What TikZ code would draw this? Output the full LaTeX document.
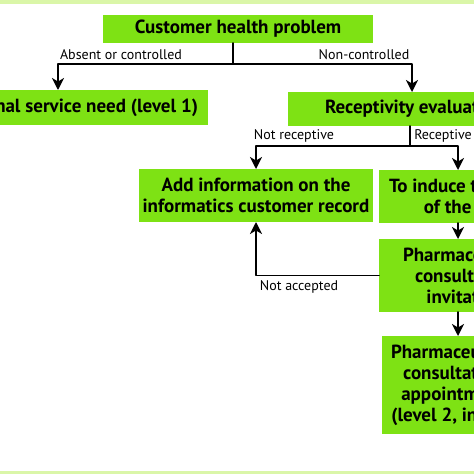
\documentclass[tikz,border=0pt]{standalone}
\usepackage{fontspec}
\setmainfont{PT Sans}
\usepackage{tikz}
\usetikzlibrary{arrows.meta}
\definecolor{boxgreen}{RGB}{126,226,20}
\definecolor{bandgreen}{RGB}{218,246,168}

\begin{document}
\begin{tikzpicture}[x=1pt,y=-1pt,line cap=round,line join=round,
  box/.style={fill=boxgreen,font=\fontsize{19}{21}\selectfont\bfseries,align=center,inner ysep=0pt,outer sep=0pt},
  lbl/.style={font=\fontsize{14}{16}\selectfont,inner sep=0pt},
  ln/.style={line width=1.6pt},
  arr/.style={line width=1.6pt,-{Stealth[length=12pt,width=12pt,inset=3.5pt]}}]
\useasboundingbox (0,0) rectangle (474,474);
\clip (0,0) rectangle (474,474);
\fill[bandgreen] (0,0) rectangle (474,3.5);
\fill[bandgreen] (0,471) rectangle (474,474);
\node[box,anchor=north west,minimum width=270pt,minimum height=28pt] (prob) at (103,15) {Customer health problem};
\node[box,anchor=north east,minimum height=35pt,inner xsep=10pt] (minimal) at (208,90) {Minimal service need (level 1)};
\node[box,anchor=north west,minimum height=34pt,inner xsep=37pt] (recep) at (288,92) {Receptivity evaluation};
\node[box,anchor=north west,minimum width=234pt,minimum height=53pt] (addinfo) at (139,169) {Add information on the\\informatics customer record};
\node[box,anchor=north west,minimum height=53pt,inner xsep=10pt] (induce) at (379,170) {To induce the demand\\of the service};
\node[box,anchor=north west,minimum height=73pt,inner xsep=24pt] (invite) at (379,239) {Pharmaceutical\\consultation\\invitation};
\node[box,anchor=north west,minimum height=98pt,inner xsep=9pt] (appoint) at (382,336) {Pharmaceutical\\consultation\\appointment\\(level 2, initial)};
\coordinate (j1) at (233,64);
\coordinate (j2) at (410,146);
\draw[ln] (prob.south -| j1) -- (j1);
\draw[arr] (j1) -| ([xshift=-150pt]minimal.north east);
\draw[arr] (j1) -| ([xshift=124pt]recep.north west);
\draw[ln] (recep.south -| j2) -- (j2);
\draw[arr] (j2) -| (addinfo.north);
\draw[arr] (j2) -| ([xshift=79pt]induce.north west);
\draw[arr] ([xshift=79pt]induce.south west) -- ([xshift=79pt]invite.north west);
\draw[arr] (invite.west) -| (addinfo.south);
\draw[arr] ([xshift=79pt]invite.south west) -- ([xshift=76pt]appoint.north west);
\node[lbl] (absent) at (121,55) {Absent or controlled};
\node[lbl] (noncon) at (364,55) {Non-controlled};
\node[lbl] (notrec) at (294,136) {Not receptive};
\node[lbl] (rec) at (443,136) {Receptive};
\node[lbl] (notacc) at (299,287) {Not accepted};
\end{tikzpicture}
\end{document}
